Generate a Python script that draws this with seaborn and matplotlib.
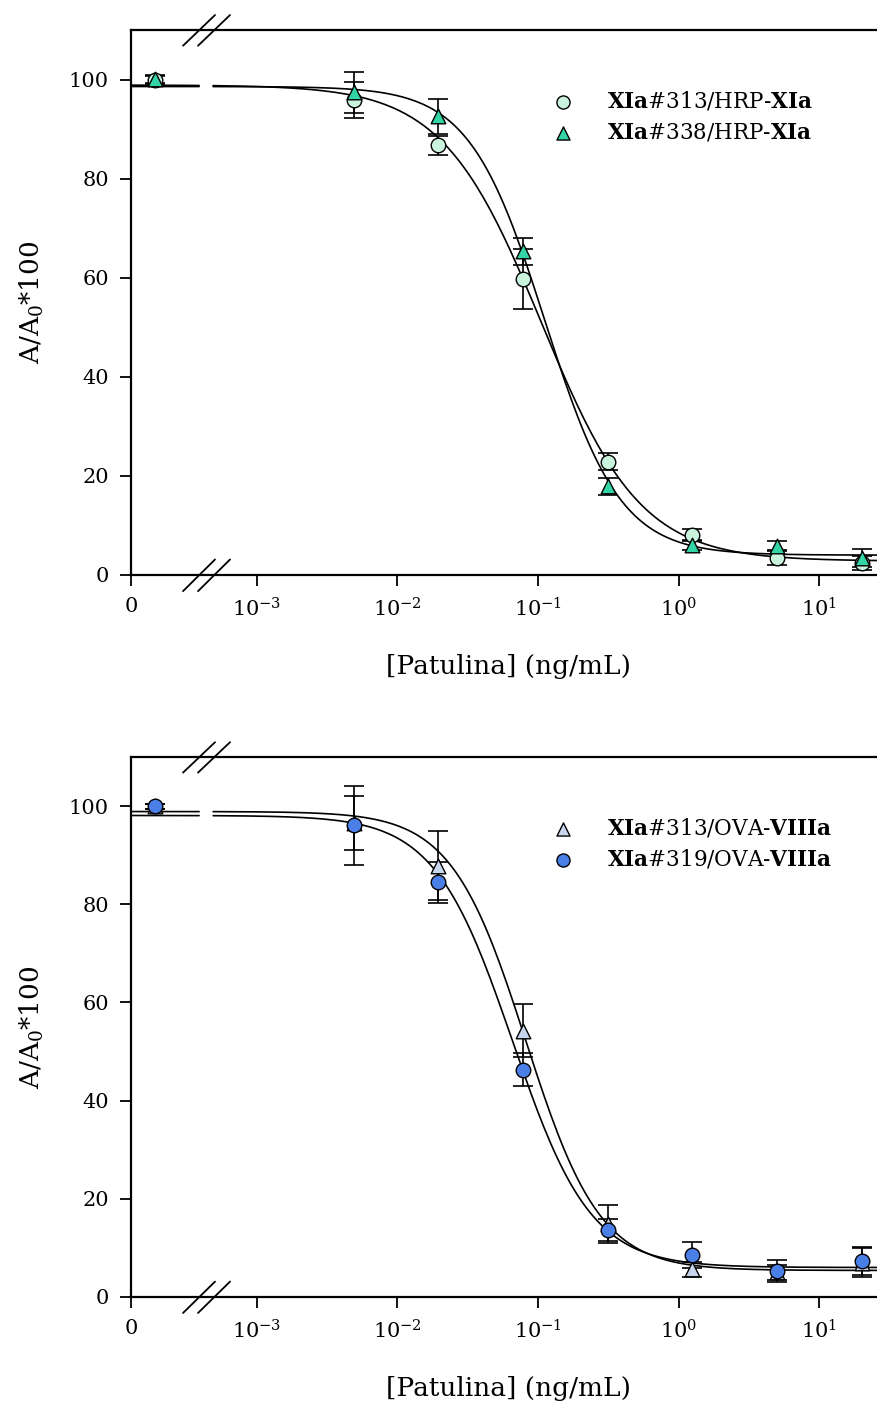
import numpy as np
import pandas as pd
import matplotlib
matplotlib.use("Agg")
import matplotlib.pyplot as plt
import seaborn as sns

# concentrations of patulin (ng/mL), 0 = control
conc = [0, 0.00488, 0.0195, 0.078, 0.3125, 1.25, 5, 20]

# top panel: HRP-XIa tracer
top_313 = [100.0, 95.9, 86.7, 59.7, 22.9, 8.0, 3.5, 2.5]
top_313_err = [0.8, 3.7, 2.0, 6.0, 1.8, 1.2, 1.5, 1.4]
top_338 = [100.2, 97.4, 92.6, 65.3, 17.9, 6.0, 5.8, 3.5]
top_338_err = [0.8, 4.2, 3.5, 2.7, 1.7, 1.0, 1.0, 1.8]

# bottom panel: OVA-VIIIa coating
bot_313 = [100.0, 96.5, 87.9, 54.2, 14.8, 5.6, 5.0, 7.0]
bot_313_err = [0.5, 5.5, 7.0, 5.4, 3.9, 1.6, 1.5, 3.0]
bot_319 = [100.0, 96.1, 84.5, 46.3, 13.6, 8.5, 5.3, 7.3]
bot_319_err = [0.5, 8.0, 4.2, 3.4, 2.2, 2.6, 2.3, 2.8]

# four-parameter logistic fits (Amax, slope, IC50, Amin)
fit_top_313 = (98.9, 1.23, 0.106, 2.8)
fit_top_338 = (98.6, 1.62, 0.112, 4.0)
fit_bot_313 = (98.9, 1.64, 0.082, 5.4)
fit_bot_319 = (98.1, 1.56, 0.066, 6.0)

x_ticks = [1e-3, 1e-2, 1e-1, 1e0, 1e1]
x_tick_labels = ["10$^{-3}$", "10$^{-2}$", "10$^{-1}$", "10$^{0}$", "10$^{1}$"]

XMIN, XMAX = 10 ** -3.894, 10 ** 1.467
ZERO_POS = 10 ** -3.722          # where the control point is drawn
BREAK_LO, BREAK_HI = 10 ** -3.41, 10 ** -3.31

sns.set_style("ticks")
plt.rcParams["font.family"] = ["DejaVu Serif"]
plt.rcParams["mathtext.fontset"] = "dejavuserif"
plt.rcParams.update({"text.color": "black", "axes.labelcolor": "black",
                     "xtick.color": "black", "ytick.color": "black",
                     "axes.edgecolor": "black"})


def four_pl(x, p):
    a, b, c, d = p
    return d + (a - d) / (1 + (x / c) ** b)


def draw_panel(ax, series):
    for name, vals, err, marker, color, fit in series:
        xs = [ZERO_POS if c == 0 else c for c in conc]
        for lo, hi in [(XMIN, BREAK_LO), (BREAK_HI, XMAX)]:
            xx = np.logspace(np.log10(lo), np.log10(hi), 200)
            sns.lineplot(x=xx, y=four_pl(xx, fit), ax=ax, color="black",
                         lw=1.2, estimator=None, sort=False, zorder=2)
        ax.errorbar(xs, vals, yerr=err, fmt="none", ecolor="black",
                    elinewidth=1.2, capsize=7, capthick=1.2, zorder=3)
    for name, vals, err, marker, color, fit in series:
        xs = [ZERO_POS if c == 0 else c for c in conc]
        sns.scatterplot(x=xs, y=vals, ax=ax, marker=marker, color=color,
                        edgecolor="black", linewidth=1.0, s=110,
                        label=name, zorder=4)

    ax.set_xscale("log")
    ax.set_xlim(XMIN, XMAX)
    ax.set_ylim(0, 110)
    ax.set_xticks([XMIN] + x_ticks)
    ax.set_xticklabels(["0"] + x_tick_labels)
    ax.xaxis.set_minor_locator(matplotlib.ticker.NullLocator())
    ax.set_yticks([0, 20, 40, 60, 80, 100])
    ax.tick_params(axis="both", direction="out", length=8, width=1.3,
                   labelsize=15, pad=8)
    for sp in ["left", "top", "bottom"]:
        ax.spines[sp].set_linewidth(1.6)
    ax.spines["right"].set_visible(False)
    ax.set_xlabel("[Patulina] (ng/mL)", fontsize=19, labelpad=24)
    ax.set_ylabel("A/A$_0$*100", fontsize=19, labelpad=16)

    # axis break marks
    for dx in (0.0, 0.0199):
        for y0, y1 in [(0.9712, 1.0275), (-0.0297, 0.0284)]:
            ax.plot([0.069 + dx, 0.1114 + dx], [y0, y1], color="black",
                    lw=1.3, transform=ax.transAxes, clip_on=False)

    ax.legend(frameon=False, loc="upper left", bbox_to_anchor=(0.519, 0.926),
              fontsize=15.5, handletextpad=1.05, labelspacing=0.4,
              markerscale=0.9)


fig = plt.figure(figsize=(8.77, 14.03), dpi=100)
ax1 = fig.add_axes([0.1494, 0.5902, 0.8597, 0.3884])
ax2 = fig.add_axes([0.1494, 0.0756, 0.8597, 0.3848])

draw_panel(ax1, [
    (r"$\mathbf{XIa}$#313/HRP-$\mathbf{XIa}$", top_313, top_313_err, "o", "#c9f3dd", fit_top_313),
    (r"$\mathbf{XIa}$#338/HRP-$\mathbf{XIa}$", top_338, top_338_err, "^", "#33d4a6", fit_top_338),
])
draw_panel(ax2, [
    (r"$\mathbf{XIa}$#313/OVA-$\mathbf{VIIIa}$", bot_313, bot_313_err, "^", "#c9d7ee", fit_bot_313),
    (r"$\mathbf{XIa}$#319/OVA-$\mathbf{VIIIa}$", bot_319, bot_319_err, "o", "#4b7fe8", fit_bot_319),
])

fig.savefig("out.png", dpi=100)
